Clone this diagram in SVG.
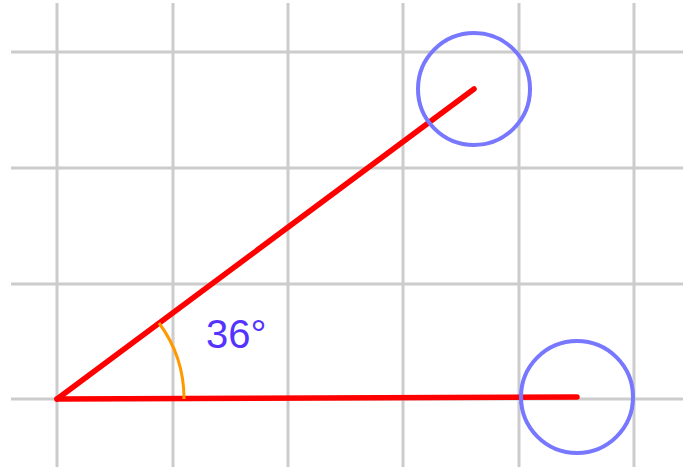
<svg xmlns="http://www.w3.org/2000/svg" width="691" height="467" viewBox="0 0 691 467">
<style>
.grid{stroke:#cccccc;stroke-width:3;fill:none}
.ray{stroke:#ff0000;stroke-width:5.5;stroke-linecap:round;fill:none}
.handle{stroke:#7777ff;stroke-width:4;fill:none}
.arc{stroke:#ff9900;stroke-width:3;fill:none}
.lbl{font-family:"Liberation Sans",Arial,sans-serif;font-size:40px;fill:#5533ff}
</style>
<rect width="691" height="467" fill="#ffffff"/>
<g id="grid">
<line class="grid" x1="57" y1="3" x2="57" y2="467"/>
<line class="grid" x1="173" y1="3" x2="173" y2="467"/>
<line class="grid" x1="288" y1="3" x2="288" y2="467"/>
<line class="grid" x1="403" y1="3" x2="403" y2="467"/>
<line class="grid" x1="519" y1="3" x2="519" y2="467"/>
<line class="grid" x1="634" y1="3" x2="634" y2="467"/>
<line class="grid" x1="11" y1="52" x2="683" y2="52"/>
<line class="grid" x1="11" y1="168" x2="683" y2="168"/>
<line class="grid" x1="11" y1="284" x2="683" y2="284"/>
<line class="grid" x1="11" y1="399" x2="683" y2="399"/>
</g>
<g id="connectors">
<line class="ray" x1="57" y1="399" x2="474" y2="89"/>
<line class="ray" x1="57" y1="399" x2="577" y2="397"/>
<path class="arc" d="M159,323 A127,127 0 0 1 184,399"/>
</g>
<g id="handle-top"><circle class="handle" cx="474" cy="89" r="56"/></g>
<g id="handle-bottom"><circle class="handle" cx="577" cy="397" r="56"/></g>
<g id="label"><text class="lbl" x="206" y="348">36°</text></g>
</svg>
